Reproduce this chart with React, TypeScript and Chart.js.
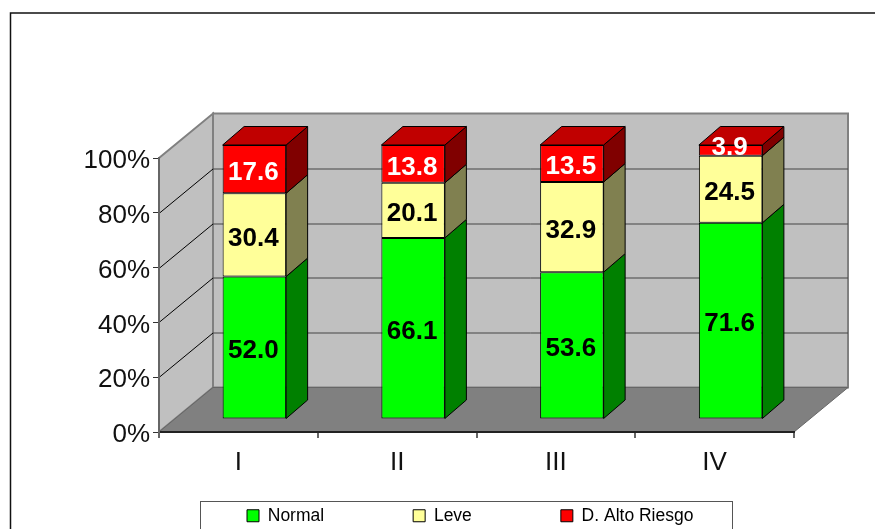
import React, { useEffect, useRef } from "react";
import { Chart, registerables } from "chart.js";

Chart.register(...registerables);

const categories = ["I", "II", "III", "IV"];
const normal = [52.0, 66.1, 53.6, 71.6];
const leve = [30.4, 20.1, 32.9, 24.5];
const altoRiesgo = [17.6, 13.8, 13.5, 3.9];

const FONT = '"Liberation Sans", Arial, sans-serif';
const WALL = { dx: 54, dy: -44.5 };
const BAR_SHIFT = { dx: 16, dy: -13 };
const BAR_DEPTH = { dx: 21.5, dy: -18.5 };
const sideColors = ["#008000", "#808050", "#800000"];
const labelColors = ["#000000", "#000000", "#ffffff"];
const TOP_COLOR = "#C00000";

const poly = (ctx: CanvasRenderingContext2D, pts: number[][], fill: string, stroke: string, lw = 1) => {
  ctx.beginPath();
  pts.forEach((p, i) => (i ? ctx.lineTo(p[0], p[1]) : ctx.moveTo(p[0], p[1])));
  ctx.closePath();
  ctx.fillStyle = fill;
  ctx.fill();
  ctx.strokeStyle = stroke;
  ctx.lineWidth = lw;
  ctx.stroke();
};

const scene3d = {
  id: "scene3d",
  beforeDraw(chart: any) {
    const { ctx, chartArea: a, scales } = chart;
    const y = scales.y;
    ctx.save();
    // outer chart frame
    ctx.strokeStyle = "#111111";
    ctx.lineWidth = 1.5;
    ctx.strokeRect(10.5, 13, 900, 600);
    // legend frame
    ctx.fillStyle = "#ffffff";
    ctx.strokeStyle = "#555555";
    ctx.lineWidth = 1;
    ctx.strokeRect(200.5, 501.5, 532, 60);

    const { left: l, right: r, top: t, bottom: b } = a;
    const { dx, dy } = WALL;
    poly(ctx, [[l + dx, t + dy], [r + dx, t + dy], [r + dx, b + dy], [l + dx, b + dy]], "#C0C0C0", "#808080", 2);
    poly(ctx, [[l, t], [l + dx, t + dy], [l + dx, b + dy], [l, b]], "#C0C0C0", "#808080", 2);
    ctx.lineWidth = 1;
    y.ticks.forEach((tick: any) => {
      if (tick.value === 0) return;
      const py = Math.round(y.getPixelForValue(tick.value)) + 0.5;
      if (tick.value < 100) {
        ctx.strokeStyle = "#000000";
        ctx.beginPath();
        ctx.moveTo(l, py);
        ctx.lineTo(l + dx, py + dy);
        ctx.stroke();
        ctx.strokeStyle = "#444444";
        ctx.beginPath();
        ctx.moveTo(l + dx, py + dy);
        ctx.lineTo(r + dx, py + dy);
        ctx.stroke();
      }
    });
    poly(ctx, [[l, b], [l + dx, b + dy], [r + dx, b + dy], [r, b]], "#808080", "#666666", 1);
    ctx.restore();

    // the legend starts where the reference's does
    const legend = chart.legend;
    const pad = legend.options.labels.padding;
    legend.left = 247 - pad;
    legend.right = legend.left + 1000;
    legend.top = 507 - pad;
    legend.bottom = legend.top + 500;
  },
  beforeDatasetsDraw(chart: any) {
    const { ctx } = chart;
    ctx.save();
    ctx.translate(BAR_SHIFT.dx, BAR_SHIFT.dy);
    const last = chart.data.datasets.length - 1;
    const { dx, dy } = BAR_DEPTH;
    chart.data.datasets.forEach((_: any, d: number) => {
      chart.getDatasetMeta(d).data.forEach((bar: any) => {
        const right = bar.x + bar.width / 2;
        const left = bar.x - bar.width / 2;
        poly(ctx, [[right, bar.y], [right + dx, bar.y + dy], [right + dx, bar.base + dy], [right, bar.base]], sideColors[d], "#000000");
        if (d === last) {
          poly(ctx, [[left, bar.y], [left + dx, bar.y + dy], [right + dx, bar.y + dy], [right, bar.y]], TOP_COLOR, "#000000");
        }
      });
    });
  },
  afterDatasetsDraw(chart: any) {
    const { ctx } = chart;
    ctx.textAlign = "center";
    ctx.textBaseline = "middle";
    ctx.font = `bold 26px ${FONT}`;
    chart.data.datasets.forEach((ds: any, d: number) => {
      chart.getDatasetMeta(d).data.forEach((bar: any, i: number) => {
        const value = ds.data[i];
        const mid = (bar.y + bar.base) / 2;
        const thin = bar.base - bar.y < 20;
        ctx.fillStyle = labelColors[d];
        ctx.fillText(value.toFixed(1), bar.x - 1, mid + (thin ? -3 : 3.5));
      });
    });
    ctx.restore();
  },
};

export default function App() {
  const ref = useRef<HTMLCanvasElement>(null);
  useEffect(() => {
    const mk = (label: string, data: number[], color: string) => ({
      label,
      data,
      backgroundColor: color,
      borderColor: "#000000",
      borderWidth: 1,
      borderSkipped: false,
      clip: false,
      categoryPercentage: 1,
      barPercentage: 0.4,
    });
    const chart = new Chart(ref.current as HTMLCanvasElement, {
      type: "bar",
      data: {
        labels: categories,
        datasets: [
          mk("Normal", normal, "#00FF00"),
          mk("Leve", leve, "#FFFF99"),
          mk("D. Alto Riesgo", altoRiesgo, "#FF0000"),
        ],
      },
      plugins: [scene3d],
      options: {
        responsive: false,
        devicePixelRatio: 1,
        animation: false,
        layout: { padding: { top: 158, left: 0, right: 81, bottom: 0 } },
        plugins: {
          title: { display: false },
          tooltip: { enabled: false },
          legend: {
            position: "bottom",
            align: "start",
            maxHeight: 36,
            labels: {
              boxWidth: 12,
              boxHeight: 12,
              padding: 89,
              color: "#000000",
              font: { family: FONT, size: 17.5 },
            },
          },
        },
        scales: {
          x: {
            stacked: true,
            afterFit: (s: any) => {
              s.height = 61;
            },
            border: { color: "#222222", width: 2 },
            grid: { display: true, drawOnChartArea: false, drawTicks: true, tickLength: 6, color: "#666666", lineWidth: 2, offset: true },
            ticks: { color: "#111111", padding: 9, maxRotation: 0, font: { family: FONT, size: 26 } },
          },
          y: {
            stacked: true,
            min: 0,
            max: 100,
            afterFit: (s: any) => {
              s.width = 159;
            },
            border: { color: "#666666", width: 2 },
            grid: { display: true, drawOnChartArea: false, drawTicks: true, tickLength: 6, color: "#333333", lineWidth: 1 },
            ticks: { stepSize: 20, color: "#111111", padding: 3, labelOffset: 3, font: { family: FONT, size: 26 }, callback: (v: any) => `${v}%` },
          },
        },
      },
    } as any);
    return () => chart.destroy();
  }, []);
  return (
    <div style={{ position: "absolute", left: 0, top: 0, width: 875, height: 529, overflow: "hidden", background: "#fff" }}>
      <canvas ref={ref} width={875} height={529} style={{ display: "block" }} />
    </div>
  );
}
